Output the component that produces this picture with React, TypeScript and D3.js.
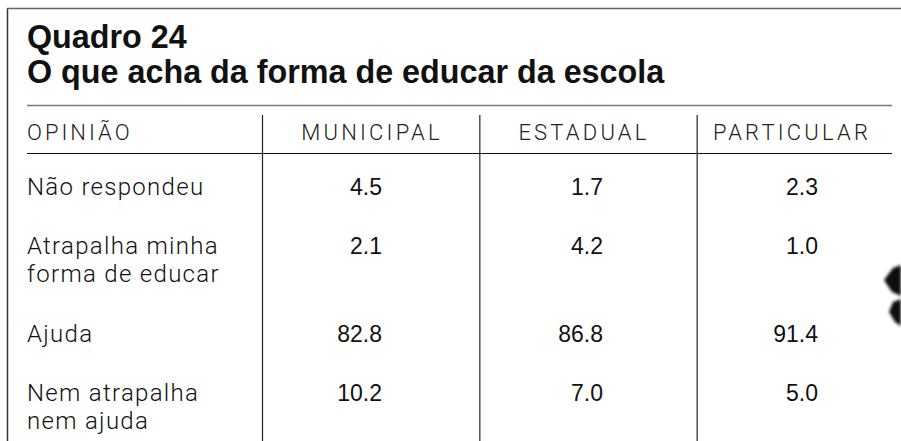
import React from 'react';
import * as d3 from 'd3';

const titleLines = ['Quadro 24', 'O que acha da forma de educar da escola'];
const headerLabel = 'OPINIÃO';
const columns = ['MUNICIPAL', 'ESTADUAL', 'PARTICULAR'];
const opinions = [
  ['Não respondeu'],
  ['Atrapalha minha', 'forma de educar'],
  ['Ajuda'],
  ['Nem atrapalha', 'nem ajuda'],
];
const municipal = [4.5, 2.1, 82.8, 10.2];
const estadual = [1.7, 4.2, 86.8, 7.0];
const particular = [2.3, 1.0, 91.4, 5.0];

const width = 901;
const height = 441;

const App = () => {
  const series = [municipal, estadual, particular];

  // column bands (value columns); first column holds the opinion labels
  const x = d3.scaleBand().domain(columns).range([262, 914]).paddingInner(0);
  const valueRight = d3.scaleOrdinal<string, number>().domain(columns).range([382, 603, 818]);
  const headerCenter = d3.scaleOrdinal<string, number>().domain(columns).range([372, 584, 792]);

  // row baselines: 59px per row plus 29px for each extra label line
  const rowY: number[] = [];
  let acc = 195;
  opinions.forEach((lines) => {
    rowY.push(acc);
    acc += 59 + (lines.length - 1) * 29;
  });

  const fmt = d3.format('.1f');
  const labelFont = "Roboto, 'Liberation Sans', sans-serif";
  const numFont = "'Liberation Sans', sans-serif";

  return (
    <svg width={width} height={height} style={{ position: 'absolute', left: 0, top: 0, background: '#fff' }}>
      <rect width={width} height={height} fill="#fff" />
      {/* frame */}
      <line x1={7.5} x2={7.5} y1={8} y2={height} stroke="#333" strokeWidth={1.5} />
      <line x1={7} x2={width} y1={8.5} y2={8.5} stroke="#666" strokeWidth={1.5} />

      {/* title */}
      {titleLines.map((t, i) => (
        <text key={t} x={27} y={48 + i * 35} fontFamily={numFont} fontWeight="bold" fontSize={32.3} fill="#111">
          {t}
        </text>
      ))}
      <line x1={27} x2={892} y1={105.5} y2={105.5} stroke="#777" strokeWidth={1.5} />

      {/* header */}
      <text x={27} y={140} fontFamily={labelFont} fontWeight={300} fontSize={22} letterSpacing={3} fill="#222">
        {headerLabel}
      </text>
      {columns.map((c) => (
        <text key={c} x={headerCenter(c)} y={140} textAnchor="middle" fontFamily={labelFont} fontWeight={300}
          fontSize={22} letterSpacing={3.2} fill="#222">
          {c}
        </text>
      ))}
      <line x1={27} x2={892} y1={153.5} y2={153.5} stroke="#111" strokeWidth={1.2} />

      {/* column dividers */}
      {columns.map((c) => (
        <line key={c} x1={(x(c) as number) + 0.5} x2={(x(c) as number) + 0.5} y1={115} y2={height}
          stroke="#222" strokeWidth={1.2} />
      ))}

      {/* rows */}
      {opinions.map((lines, r) => (
        <g key={r}>
          {lines.map((l, j) => (
            <text key={l} x={27} y={rowY[r] + j * 28} fontFamily={labelFont} fontWeight={300} fontSize={24}
              letterSpacing={1.3} fill="#111">
              {l}
            </text>
          ))}
          {columns.map((c, ci) => (
            <text key={c} x={valueRight(c)} y={rowY[r]} textAnchor="end" fontFamily={numFont} fontSize={23} fill="#111">
              {fmt(series[ci][r])}
            </text>
          ))}
        </g>
      ))}

      {/* scan artifact at right edge */}
      <defs>
        <filter id="blur">
          <feGaussianBlur stdDeviation={1.5} />
        </filter>
      </defs>
      <g filter="url(#blur)" fill="#111">
        <path d="M901,265 L893,268 L884,280 L892,292 L901,296 Z" />
        <path d="M901,299 L893,302 L889,312 L895,322 L901,326 Z" />
      </g>
    </svg>
  );
};

export default App;
